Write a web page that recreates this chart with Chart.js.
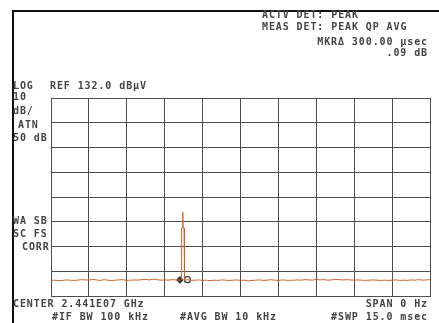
<!DOCTYPE html>
<html>
<head>
<meta charset="utf-8">
<script src="https://cdn.jsdelivr.net/npm/chart.js@4/dist/chart.umd.min.js"></script>
<style>
  html, body { margin: 0; padding: 0; background: #fff; }
  #wrap { position: relative; width: 439px; height: 323px; overflow: hidden; background: #fff; }
  #spectrum { position: absolute; left: 0; top: 0; }
  .frame { position: absolute; left: 12px; top: 10px; width: 440px; height: 330px;
           border-left: 2px solid #111; border-top: 2px solid #111; }
  .lbl { position: absolute; font-family: "DejaVu Sans Mono", monospace; font-size: 10px;
         font-weight: bold; line-height: 10px; letter-spacing: 0.9px; color: #444; white-space: pre; }
  .r { text-align: right; }
</style>
</head>
<body>
<div id="wrap">
  <canvas id="spectrum" width="439" height="323"></canvas>
  <div class="frame"></div>
  <div class="lbl" style="left:262px;top:10px">ACTV DET: PEAK</div>
  <div class="lbl" style="left:262px;top:22px">MEAS DET: PEAK QP AVG</div>
  <div class="lbl r" style="right:11px;top:37px">MKRΔ 300.00 µsec</div>
  <div class="lbl r" style="right:11px;top:48px">.09 dB</div>
  <div class="lbl" style="left:13px;top:81px">LOG</div>
  <div class="lbl" style="left:50px;top:81px">REF 132.0 dBµV</div>
  <div class="lbl" style="left:13px;top:92px">10</div>
  <div class="lbl" style="left:13px;top:106px">dB/</div>
  <div class="lbl" style="left:18px;top:120px">ATN</div>
  <div class="lbl" style="left:13px;top:133px">50 dB</div>
  <div class="lbl" style="left:13px;top:216px">WA SB</div>
  <div class="lbl" style="left:13px;top:229px">SC FS</div>
  <div class="lbl" style="left:22px;top:242px">CORR</div>
  <div class="lbl" style="left:13px;top:299px">CENTER 2.441E07 GHz</div>
  <div class="lbl r" style="right:11px;top:299px">SPAN 0 Hz</div>
  <div class="lbl" style="left:52px;top:312px">#IF BW 100 kHz</div>
  <div class="lbl" style="left:180px;top:312px">#AVG BW 10 kHz</div>
  <div class="lbl r" style="right:11px;top:312px">#SWP 15.0 msec</div>
</div>
<script>
// zero span sweep, 15 ms wide, log scale 10 dB/div from REF 132 dBuV
const sweepTimeMs = 15;
const refLevel = 132;
const dbPerDiv = 10;
const yDivs = 8;

// noise floor, one reading every 0.15 ms
const floorDb = [
  58.3, 58.4, 58.2, 58.3, 58.5, 58.4, 58.3, 58.4, 58.6, 58.5,
  58.4, 58.7, 58.5, 58.3, 58.6, 58.4, 58.2, 58.4, 58.5, 58.6,
  58.3, 58.4, 58.5, 58.4, 58.6, 58.7, 58.5, 58.8, 58.6, 58.4,
  58.5, 58.4, 58.6, 58.5, 58.4, 58.5, 58.6, 58.3, 58.4, 58.5,
  58.3, 58.4, 58.2, 58.4, 58.3, 58.5, 58.4, 58.3, 58.4, 58.5,
  58.3, 58.4, 58.1, 58.3, 58.4, 58.5, 58.3, 58.4, 58.6, 58.4,
  58.3, 58.5, 58.4, 58.3, 58.4, 58.5, 58.4, 58.6, 58.5, 58.4,
  58.7, 58.5, 58.6, 58.4, 58.5, 58.7, 58.6, 58.5, 58.6, 58.5,
  58.4, 58.5, 58.4, 58.3, 58.4, 58.5, 58.4, 58.3, 58.4, 58.3,
  58.4, 58.5, 58.3, 58.4, 58.3, 58.5, 58.4, 58.6, 58.4, 58.5,
  58.6
];

// the burst near 5.2 ms
const burstMs = [5.15, 5.17, 5.205, 5.215, 5.23, 5.265, 5.285];
const burstDb = [58.5, 79.5, 79.5, 85.8, 79.5, 79.5, 58.4];

// marker and delta marker
const markerMs = [5.1, 5.4];
const markerDb = [58.5, 58.6];

const trace = [];
const step = sweepTimeMs / (floorDb.length - 1);
floorDb.forEach((v, i) => {
    const t = i * step;
    if (t < burstMs[0] || t > burstMs[burstMs.length - 1]) {
        trace.push({ x: t, y: v });
    }
});
burstMs.forEach((t, i) => trace.push({ x: t, y: burstDb[i] }));
trace.sort((a, b) => a.x - b.x);

const gridColor = "#4e4e4e";

new Chart(document.getElementById("spectrum"), {
    type: "line",
    data: {
        datasets: [{
            data: trace,
            borderColor: "#c8642d",
            borderWidth: 1,
            pointRadius: 0,
            tension: 0,
        }, {
            data: markerMs.map((t, i) => ({ x: t, y: markerDb[i] })),
            showLine: false,
            pointStyle: ["rectRot", "circle"],
            pointRadius: 3,
            pointBackgroundColor: ["#333", "rgba(0,0,0,0)"],
            pointBorderColor: "#333",
            pointBorderWidth: 1.2,
        }],
    },
    options: {
        responsive: false,
        animation: false,
        layout: { padding: { left: 51, top: 98, right: 9, bottom: 27 } },
        plugins: { legend: { display: false }, tooltip: { enabled: false } },
        scales: {
            x: {
                type: "linear",
                min: 0,
                max: sweepTimeMs,
                ticks: { display: false, count: 11 },
                grid: { color: gridColor, lineWidth: 1, drawTicks: false },
                border: { color: gridColor, width: 1 },
            },
            y: {
                type: "linear",
                min: refLevel - dbPerDiv * yDivs,
                max: refLevel,
                ticks: { display: false, stepSize: dbPerDiv },
                grid: { color: gridColor, lineWidth: 1, drawTicks: false },
                border: { color: gridColor, width: 1 },
            },
        },
    },
});
</script>
</body>
</html>
